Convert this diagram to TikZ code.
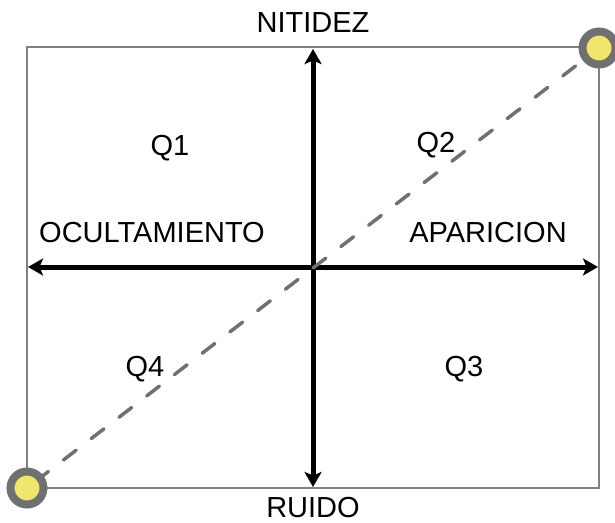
\documentclass[tikz,border=0pt]{standalone}
\usepackage{fontspec}
\setmainfont{Liberation Sans}
\usetikzlibrary{arrows.meta}
\definecolor{ringgray}{RGB}{112,112,112}
\definecolor{framegray}{RGB}{128,128,128}
\definecolor{dotyellow}{RGB}{240,230,110}
\begin{document}
\begin{tikzpicture}[x=1pt,y=-1pt,
  frame/.style={draw=framegray,line width=2pt},
  axis/.style={line width=5pt,{Stealth[length=15pt,width=17pt,inset=3.5pt]}-{Stealth[length=15pt,width=17pt,inset=3.5pt]}},
  dashline/.style={draw=ringgray,line width=3.5pt,line cap=round,dash pattern=on 16pt off 19pt,dash phase=24pt},
  dot/.style={circle,draw=ringgray,fill=dotyellow,line width=8pt,minimum size=33pt,inner sep=0pt},
  lbl/.style={font=\fontsize{29}{33}\selectfont,inner sep=0pt,anchor=base}
]
\useasboundingbox (0,0) rectangle (615,522);
\draw[frame] (27,47) rectangle (599,488);
\coordinate (T) at (313,49);
\coordinate (B) at (313,487);
\coordinate (L) at (28,267);
\coordinate (R) at (598,267);
\draw[axis] (B) -- (T);
\draw[axis] (L) -- (R);
\coordinate (c1) at (27,488);
\coordinate (c2) at (599,48);
\draw[dashline] (c1) -- (c2);
\node[dot] (p1) at (c1) {};
\node[dot] (p2) at (c2) {};
\node[lbl] (nit) at (313,32) {NITIDEZ};
\node[lbl] (rui) at (313,517) {RUIDO};
\node[lbl] (ocu) at (152,242) {OCULTAMIENTO};
\node[lbl] (apa) at (488,242) {APARICION};
\node[lbl] (q1) at (170,155) {Q1};
\node[lbl] (q2) at (436,152) {Q2};
\node[lbl] (q3) at (464,376) {Q3};
\node[lbl] (q4) at (145,376) {Q4};
\end{tikzpicture}
\end{document}
